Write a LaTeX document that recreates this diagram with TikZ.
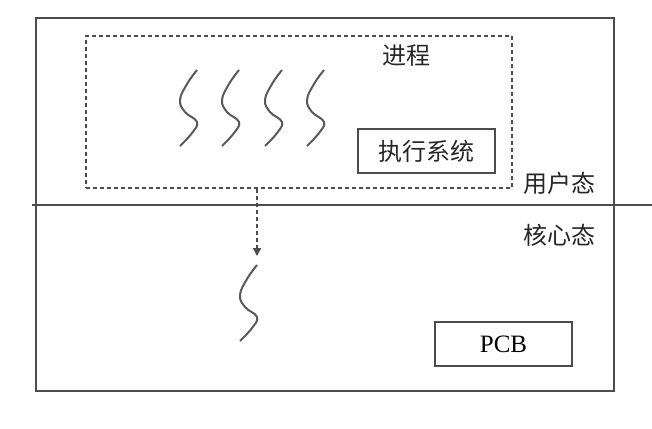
\documentclass[tikz,border=0pt]{standalone}
\usepackage{fontspec}
\setmainfont{Liberation Serif}
\newfontfamily\cjk{Noto Sans CJK SC}
\usetikzlibrary{arrows,arrows.meta,positioning,calc}

\begin{document}
\begin{tikzpicture}[x=1pt, y=-1pt]
  \tikzstyle{line} = [draw=black!70, line width=1.7pt]
  \tikzstyle{label} = [font=\cjk\fontsize{24}{24}\selectfont, text=black!85, inner sep=0pt]
  \tikzstyle{box} = [line, rectangle, inner sep=0pt]
  \tikzstyle{dashline} = [dash pattern=on 4pt off 3pt]
  \tikzset{thread/.pic={
    \draw[black!65, line width=2pt] plot[smooth, tension=0.7] coordinates
      {(0,0) (-10,14) (-17,30) (-12,42) (0,52) (-5,63) (-17,76)};
  }}

  \useasboundingbox (0,0) rectangle (652,428);

  % frame and the user / kernel border
  \node[box, minimum width=578pt, minimum height=373pt] (frame) at (325,204.5) {};
  \coordinate (bl) at (32,205);
  \coordinate (br) at (652,205);
  \draw[line] (bl) -- (br);

  % process
  \node[box, dashline, line width=1.5pt, minimum width=426pt, minimum height=152pt] (proc) at (299,112) {};
  \node[label] (proctxt) at (406,56) {进程};
  \node[box, minimum width=137pt, minimum height=44pt, label] (exec) at (426.5,151) {执行系统};

  % user threads
  \foreach \x in {197,239,282,324}
    \pic at (\x,70) {thread};

  % kernel side
  \node[label] (user) at (559,183) {用户态};
  \node[label] (kernel) at (559,235) {核心态};
  \coordinate (kt) at (257,256);
  \draw[line, line width=1.5pt, dashline, -{Triangle[length=8pt,width=8pt]}] (proc.south -| kt) -- (kt);
  \pic at (257,265) {thread};
  \node[box, minimum width=137pt, minimum height=44pt, font=\fontsize{25}{25}\selectfont] (pcb) at (503.5,344) {PCB};
\end{tikzpicture}
\end{document}
